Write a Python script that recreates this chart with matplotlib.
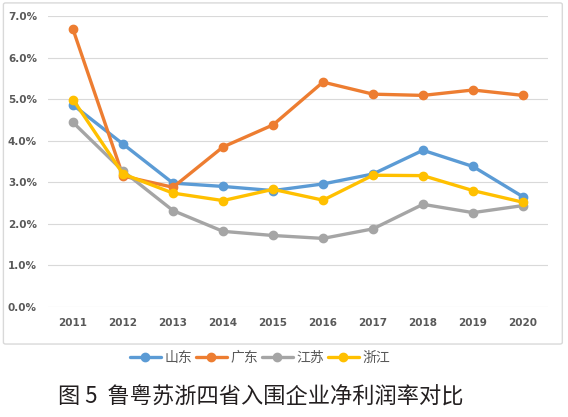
import matplotlib
matplotlib.use("Agg")
import matplotlib.pyplot as plt
from matplotlib.patches import FancyBboxPatch
from matplotlib.ticker import FuncFormatter

plt.rcParams['font.family'] = ['Noto Sans CJK SC', 'DejaVu Sans']

years = ["2011", "2012", "2013", "2014", "2015", "2016", "2017", "2018", "2019", "2020"]
shandong = [4.86, 3.92, 2.98, 2.90, 2.80, 2.96, 3.20, 3.77, 3.38, 2.65]
guangdong = [6.68, 3.15, 2.88, 3.85, 4.38, 5.41, 5.12, 5.09, 5.22, 5.09]
jiangsu = [4.44, 3.27, 2.32, 1.82, 1.72, 1.65, 1.88, 2.47, 2.27, 2.44]
zhejiang = [4.99, 3.20, 2.74, 2.56, 2.83, 2.57, 3.17, 3.16, 2.80, 2.52]

series = [
    ("山东", shandong, "#5B9BD5"),
    ("广东", guangdong, "#ED7D31"),
    ("江苏", jiangsu, "#A5A5A5"),
    ("浙江", zhejiang, "#FFC000"),
]

fig = plt.figure(figsize=(5.68, 4.17), dpi=100)
fig.patch.set_facecolor("white")

# chart frame
frame = FancyBboxPatch((0.006, 0.175), 0.984, 0.818,
                       boxstyle="round,pad=0,rounding_size=0.004",
                       transform=fig.transFigure, facecolor="none",
                       edgecolor="#D9D9D9", linewidth=1.0, zorder=-1)
fig.patches.append(frame)

ax = fig.add_axes([48 / 568, 1 - 307 / 417, 500 / 568, (307 - 16) / 417])
ax.patch.set_alpha(0)
x = list(range(len(years)))
for name, vals, col in series:
    ax.plot(x, vals, color=col, linewidth=2.4, marker="o", markersize=6,
            label=name, solid_capstyle="round")

ax.set_xlim(-0.5, len(years) - 0.5)
ax.set_ylim(0, 7)
ax.set_yticks([0, 1, 2, 3, 4, 5, 6, 7])
ax.yaxis.set_major_formatter(FuncFormatter(lambda v, p: f"{v:.1f}%"))
ax.set_xticks(x)
ax.set_xticklabels(years)
ax.grid(axis="y", color="#D9D9D9", linewidth=0.8)
ax.set_axisbelow(True)
for s in ["top", "right", "left", "bottom"]:
    ax.spines[s].set_visible(False)
ax.tick_params(length=0, labelsize=7.5, colors="#595959", pad=8)
for lab in ax.get_xticklabels() + ax.get_yticklabels():
    lab.set_fontweight("bold")
    lab.set_family("DejaVu Sans")

fig.legend(loc="center", bbox_to_anchor=(260 / 568, 1 - 358 / 417), ncol=4,
           frameon=False, fontsize=10, handlelength=2.2, columnspacing=0.3,
           handletextpad=0.25, labelcolor="#595959")

fig.text(261 / 568, 1 - 397 / 417, "图 5  鲁粤苏浙四省入围企业净利润率对比",
         ha="center", va="center", fontsize=16, color="#231F20")

fig.savefig("out.png", dpi=100)
